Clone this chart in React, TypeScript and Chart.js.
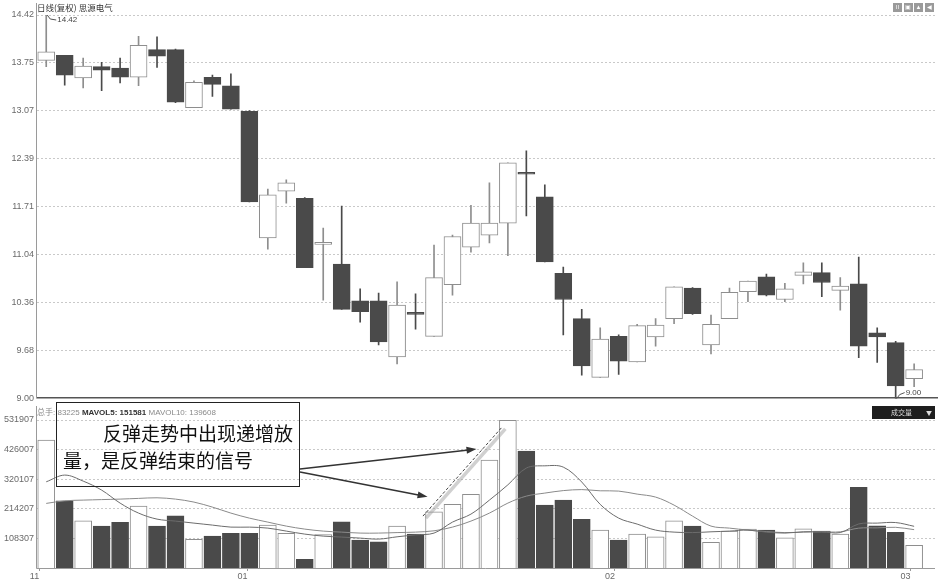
import { useEffect, useRef } from 'react';
import Chart from 'chart.js/auto';

// daily candles (11 月 -> 03 月)
const opens = [13.78, 13.85, 13.53, 13.69, 13.67, 13.54, 13.93, 13.93, 13.11, 13.54, 13.42, 13.06, 11.27, 11.93, 11.83, 11.18, 10.90, 10.38, 10.38, 9.59, 10.20, 9.88, 10.61, 11.14, 11.31, 11.48, 12.18, 11.85, 10.77, 10.13, 9.30, 9.88, 9.52, 9.87, 10.13, 10.56, 9.76, 10.13, 10.51, 10.72, 10.40, 10.74, 10.78, 10.53, 10.62, 9.93, 9.79, 9.28];
const highs = [14.42, 13.85, 13.81, 13.75, 13.81, 14.12, 14.11, 13.94, 13.49, 13.57, 13.59, 13.07, 11.96, 12.09, 11.84, 11.41, 11.72, 10.55, 10.49, 10.65, 10.48, 11.17, 11.31, 11.73, 12.05, 12.33, 12.50, 12.02, 10.86, 10.26, 10.00, 9.90, 10.05, 10.13, 10.58, 10.57, 10.18, 10.56, 10.66, 10.76, 10.63, 10.92, 10.92, 10.71, 11.00, 10.00, 9.81, 9.49];
const lows = [13.69, 13.43, 13.39, 13.35, 13.46, 13.42, 13.68, 13.18, 13.11, 13.27, 13.09, 11.78, 11.11, 11.76, 10.85, 10.39, 10.26, 10.08, 9.76, 9.49, 9.98, 9.88, 10.46, 11.07, 11.20, 11.02, 11.58, 10.93, 9.90, 9.33, 9.30, 9.34, 9.52, 9.74, 10.06, 10.19, 9.63, 10.13, 10.37, 10.45, 10.37, 10.62, 10.44, 10.25, 9.58, 9.51, 9.00, 9.17];
const closes = [13.90, 13.57, 13.70, 13.64, 13.54, 13.99, 13.84, 13.19, 13.47, 13.44, 13.09, 11.78, 11.88, 12.05, 10.85, 11.18, 10.26, 10.23, 9.80, 10.32, 10.19, 10.71, 11.29, 11.48, 11.48, 12.33, 12.17, 10.93, 10.40, 9.46, 9.84, 9.53, 10.03, 10.04, 10.58, 10.20, 10.05, 10.50, 10.66, 10.46, 10.55, 10.79, 10.64, 10.59, 9.74, 9.87, 9.18, 9.41];

const volumes = [460000, 242800, 171300, 152300, 165600, 223900, 152300, 189200, 104700, 116500, 126200, 126200, 155900, 126200, 33200, 122000, 167700, 102200, 96100, 152300, 123700, 203500, 229900, 265700, 388400, 531000, 420600, 227400, 245300, 176300, 138000, 102200, 123700, 114000, 171300, 152300, 94000, 134400, 141600, 138000, 110400, 142600, 134400, 123700, 290800, 153400, 129800, 83225];
const mavol5 = [310800, 334800, 313300, 281100, 234600, 198800, 177300, 170200, 163000, 155900, 148700, 148700, 145100, 134400, 123700, 116500, 113000, 109400, 105800, 114000, 121000, 127300, 166600, 195200, 245300, 300000, 360000, 368000, 363400, 310000, 230000, 180900, 159500, 138000, 130800, 129100, 131900, 134400, 138000, 130800, 127300, 131900, 131900, 129100, 160000, 163000, 165000, 151581];
const mavol10 = [233500, 242800, 245300, 247100, 248900, 251400, 253600, 248900, 238200, 220300, 198800, 180900, 166600, 152300, 141600, 134400, 130800, 127300, 127300, 129100, 130800, 135500, 148700, 170200, 198800, 234600, 259600, 270400, 279300, 282900, 278600, 277500, 266800, 256100, 227400, 188100, 152300, 145100, 138000, 132600, 129100, 130800, 131900, 131900, 145000, 146000, 148000, 139608];

const priceTicks = [9.0, 9.68, 10.36, 11.04, 11.71, 12.39, 13.07, 13.75, 14.42];
const volumeTicks = [108307, 214207, 320107, 426007, 531907];
const VOL_MIN = 2407;
const VOL_MAX = 531907;
const monthLabels = ['11', '01', '02', '03'];
const monthTickAt = [-0.38, 10.9, 30.8, 46.8];

// annotation anchors in (bar index, volume)
const rallyLine = [[20.4, 188100], [24.7, 507600]];
const arrowTips = [[23.3, 427800], [20.65, 257100]];

const W = 944;
const PRICE_H = 407;
const VOL_TOP = 406;
const VOL_H = 176;
const AXIS_W = 37;
const RIGHT_PAD = 9;
const X_MIN = -0.5;
const X_MAX = 48.13;
const BOX = { left: 56, top: 402, width: 244, height: 85 };

const DARK = '#4a4a4a';
const UP_EDGE = '#8e8e8e';
const GRID = '#c9c9c9';
const TICK_FONT = { family: '"Liberation Sans", Arial, sans-serif', size: 9 };

const isUp = (i: number) => closes[i] >= opens[i];

const App = () => {
  const priceRef = useRef<HTMLCanvasElement>(null);
  const volRef = useRef<HTMLCanvasElement>(null);

  useEffect(() => {
    if (!priceRef.current || !volRef.current) return;
    const idx = opens.map((_, i) => i);

    const priceDecor = {
      id: 'priceDecor',
      afterDraw(chart: any) {
        const { ctx, chartArea, scales } = chart;
        ctx.save();
        // left axis
        ctx.strokeStyle = '#9a9a9a';
        ctx.lineWidth = 1;
        ctx.beginPath();
        ctx.moveTo(chartArea.left - 0.5, 3);
        ctx.lineTo(chartArea.left - 0.5, chartArea.bottom);
        ctx.stroke();
        // panel separator
        ctx.strokeStyle = '#555';
        ctx.lineWidth = 1.5;
        ctx.beginPath();
        ctx.moveTo(chartArea.left, chartArea.bottom - 0.75);
        ctx.lineTo(chartArea.right + 3, chartArea.bottom - 0.75);
        ctx.stroke();

        // max / min labels
        const hi = Math.max(...highs);
        const lo = Math.min(...lows);
        const hx = scales.x.getPixelForValue(highs.indexOf(hi));
        const hy = scales.y.getPixelForValue(hi);
        const lx = scales.x.getPixelForValue(lows.indexOf(lo));
        const ly = scales.y.getPixelForValue(lo);
        ctx.strokeStyle = '#555';
        ctx.lineWidth = 1;
        ctx.beginPath();
        ctx.moveTo(hx + 1, hy);
        ctx.lineTo(hx + 4, hy + 4);
        ctx.lineTo(hx + 10, hy + 5);
        ctx.stroke();
        ctx.beginPath();
        ctx.moveTo(lx + 1, ly);
        ctx.lineTo(lx + 4, ly - 4);
        ctx.lineTo(lx + 9, ly - 6);
        ctx.stroke();
        ctx.fillStyle = '#444';
        ctx.font = '8px "Liberation Sans", Arial, sans-serif';
        ctx.textBaseline = 'middle';
        ctx.textAlign = 'left';
        ctx.fillText(hi.toFixed(2), hx + 11, hy + 5);
        ctx.fillText(lo.toFixed(2), lx + 10, ly - 6);
        ctx.restore();
      }
    };

    const volDecor = {
      id: 'volDecor',
      afterDraw(chart: any) {
        const { ctx, chartArea, scales } = chart;
        const px = (p: number[]) => [scales.x.getPixelForValue(p[0]), scales.y.getPixelForValue(p[1])];
        ctx.save();
        ctx.strokeStyle = '#9a9a9a';
        ctx.lineWidth = 1;
        ctx.beginPath();
        ctx.moveTo(chartArea.left - 0.5, 0);
        ctx.lineTo(chartArea.left - 0.5, chartArea.bottom + 0.5);
        ctx.lineTo(chartArea.right, chartArea.bottom + 0.5);
        ctx.stroke();

        // dashed rally line with soft shadow
        const [a, b] = rallyLine.map(px);
        ctx.strokeStyle = 'rgba(150,150,150,0.45)';
        ctx.lineWidth = 3.5;
        ctx.beginPath();
        ctx.moveTo(a[0] + 3, a[1] + 2);
        ctx.lineTo(b[0] + 3, b[1] + 2);
        ctx.stroke();
        ctx.strokeStyle = '#444';
        ctx.lineWidth = 1;
        ctx.setLineDash([3, 2]);
        ctx.beginPath();
        ctx.moveTo(a[0], a[1]);
        ctx.lineTo(b[0], b[1]);
        ctx.stroke();
        ctx.setLineDash([]);

        // arrows from the note box
        const x0 = BOX.left + BOX.width;
        const starts = [BOX.top + 67 - VOL_TOP, BOX.top + 70 - VOL_TOP];
        ctx.strokeStyle = '#333';
        ctx.fillStyle = '#333';
        ctx.lineWidth = 1.6;
        arrowTips.forEach((tip, k) => {
          const [x1, y1] = px(tip);
          const y0 = starts[k];
          const ang = Math.atan2(y1 - y0, x1 - x0);
          const c = Math.cos(ang);
          const s = Math.sin(ang);
          const head = 10;
          const half = 3.5;
          ctx.beginPath();
          ctx.moveTo(x0, y0);
          ctx.lineTo(x1 - head * c * 0.8, y1 - head * s * 0.8);
          ctx.stroke();
          ctx.beginPath();
          ctx.moveTo(x1, y1);
          ctx.lineTo(x1 - head * c + half * s, y1 - head * s - half * c);
          ctx.lineTo(x1 - head * c - half * s, y1 - head * s + half * c);
          ctx.closePath();
          ctx.fill();
        });
        ctx.restore();
      }
    };

    const priceChart = new Chart(priceRef.current, {
      type: 'bar',
      data: {
        datasets: [
          {
            label: 'body',
            data: idx.map(i => ({ x: i, y: [opens[i], closes[i]] })) as any,
            backgroundColor: idx.map(i => (isUp(i) ? '#ffffff' : DARK)),
            borderColor: idx.map(i => (isUp(i) ? UP_EDGE : DARK)),
            borderWidth: 1,
            borderSkipped: false,
            barThickness: 17,
            minBarLength: 2,
            grouped: false,
            order: 1
          },
          {
            label: 'wick',
            data: idx.map(i => ({ x: i, y: [lows[i], highs[i]] })) as any,
            backgroundColor: idx.map(i => (isUp(i) ? UP_EDGE : DARK)),
            borderWidth: 0,
            barThickness: 1,
            grouped: false,
            order: 2
          }
        ]
      },
      options: {
        responsive: false,
        maintainAspectRatio: false,
        animation: false,
        layout: { padding: { top: 15, bottom: 1, left: 0, right: RIGHT_PAD } },
        plugins: { legend: { display: false }, tooltip: { enabled: false } },
        scales: {
          x: { type: 'linear', min: X_MIN, max: X_MAX, offset: false, display: false },
          y: {
            min: 9,
            max: 14.42,
            bounds: 'data',
            afterBuildTicks: (axis: any) => {
              axis.ticks = priceTicks.map(v => ({ value: v }));
            },
            afterFit: (axis: any) => {
              axis.width = AXIS_W;
            },
            ticks: {
              font: TICK_FONT,
              color: '#6a6a6a',
              padding: 3,
              callback: (v: any) => Number(v).toFixed(2)
            },
            grid: {
              drawTicks: false,
              color: (c: any) => (c.tick && c.tick.value === 9 ? 'rgba(0,0,0,0)' : GRID)
            },
            border: { display: false, dash: [2, 2] }
          }
        }
      } as any,
      plugins: [priceDecor]
    });

    const volChart = new Chart(volRef.current, {
      type: 'bar',
      data: {
        datasets: [
          {
            type: 'line',
            label: 'MAVOL5',
            data: idx.map(i => ({ x: i, y: mavol5[i] })),
            borderColor: '#6c6c6c',
            borderWidth: 1,
            pointRadius: 0,
            tension: 0.35,
            order: 0
          },
          {
            type: 'line',
            label: 'MAVOL10',
            data: idx.map(i => ({ x: i, y: mavol10[i] })),
            borderColor: '#8a8a8a',
            borderWidth: 1,
            pointRadius: 0,
            tension: 0.35,
            order: 0
          },
          {
            type: 'bar',
            label: 'volume',
            data: idx.map(i => ({ x: i, y: volumes[i] })),
            backgroundColor: idx.map(i => (isUp(i) ? '#ffffff' : DARK)),
            borderColor: idx.map(i => (isUp(i) ? UP_EDGE : DARK)),
            borderWidth: 1,
            barThickness: 17,
            base: VOL_MIN,
            grouped: false,
            order: 1
          }
        ] as any
      },
      options: {
        responsive: false,
        maintainAspectRatio: false,
        animation: false,
        layout: { padding: { top: 14, bottom: 0, left: 0, right: RIGHT_PAD } },
        plugins: { legend: { display: false }, tooltip: { enabled: false } },
        scales: {
          x: {
            type: 'linear',
            min: X_MIN,
            max: X_MAX,
            offset: false,
            bounds: 'data',
            afterBuildTicks: (axis: any) => {
              axis.ticks = monthTickAt.map(v => ({ value: v }));
            },
            afterFit: (axis: any) => {
              axis.height = 14;
            },
            ticks: {
              align: 'end',
              autoSkip: false,
              maxRotation: 0,
              padding: 0,
              font: TICK_FONT,
              color: '#6a6a6a',
              callback: (_v: any, i: number) => monthLabels[i]
            },
            grid: { drawOnChartArea: false, drawTicks: true, tickLength: 3, color: '#999', offset: false },
            border: { display: false }
          },
          y: {
            min: VOL_MIN,
            max: VOL_MAX,
            bounds: 'data',
            afterBuildTicks: (axis: any) => {
              axis.ticks = volumeTicks.map(v => ({ value: v }));
            },
            afterFit: (axis: any) => {
              axis.width = AXIS_W;
            },
            ticks: {
              font: TICK_FONT,
              color: '#6a6a6a',
              padding: 3,
              callback: (v: any) => String(v)
            },
            grid: { drawTicks: false, color: GRID },
            border: { display: false, dash: [2, 2] }
          }
        }
      } as any,
      plugins: [volDecor]
    });

    return () => {
      priceChart.destroy();
      volChart.destroy();
    };
  }, []);

  const cjk = '"Noto Sans CJK SC", "Noto Sans", sans-serif';
  const latin = '"Liberation Sans", Arial, sans-serif';

  return (
    <div style={{ position: 'relative', width: W, height: 582, background: '#fff', overflow: 'hidden' }}>
      <style>{'html,body{margin:0;padding:0;background:#fff}'}</style>
      <canvas
        ref={priceRef}
        width={W}
        height={PRICE_H}
        style={{ position: 'absolute', left: 0, top: 0, width: W, height: PRICE_H }}
      />
      <canvas
        ref={volRef}
        width={W}
        height={VOL_H}
        style={{ position: 'absolute', left: 0, top: VOL_TOP, width: W, height: VOL_H }}
      />

      <div style={{ position: 'absolute', left: 37, top: 2, fontFamily: cjk, fontSize: 8.5, lineHeight: '10px', color: '#333', whiteSpace: 'nowrap' }}>
        日线(复权) 思源电气
      </div>

      <div style={{ position: 'absolute', left: 893, top: 3, display: 'flex', gap: 1.5 }}>
        {['II', '▣', '▲', '◀'].map(g => (
          <div key={g} style={{ width: 9, height: 9, background: '#9a9a9a', color: '#fff', fontSize: 6, lineHeight: '9px', textAlign: 'center', fontFamily: latin }}>
            {g}
          </div>
        ))}
      </div>

      <div style={{ position: 'absolute', left: 37, top: 407, fontFamily: latin, fontSize: 8, lineHeight: '9px', color: '#8a8a8a', whiteSpace: 'nowrap' }}>
        <span style={{ fontFamily: cjk }}>总手</span>: 83225 <span style={{ color: '#333', fontWeight: 'bold' }}>MAVOL5: 151581</span> MAVOL10: 139608
      </div>

      <div style={{ position: 'absolute', left: 872, top: 406, width: 63, height: 13, background: '#1e1e1e', color: '#ddd', fontFamily: cjk, fontSize: 7, lineHeight: '13px' }}>
        <span style={{ position: 'absolute', left: 19 }}>成交量</span>
        <span style={{ position: 'absolute', left: 54, fontSize: 6 }}>▼</span>
      </div>

      <div
        style={{
          position: 'absolute',
          left: BOX.left,
          top: BOX.top,
          width: BOX.width,
          height: BOX.height,
          boxSizing: 'border-box',
          border: '1.5px solid #222',
          fontFamily: cjk,
          fontSize: 19,
          lineHeight: '27px',
          color: '#111',
          paddingTop: 16,
          paddingLeft: 6,
          whiteSpace: 'nowrap'
        }}
      >
        <div style={{ paddingLeft: 40 }}>反弹走势中出现递增放</div>
        <div>量，是反弹结束的信号</div>
      </div>
    </div>
  );
};

export default App;
